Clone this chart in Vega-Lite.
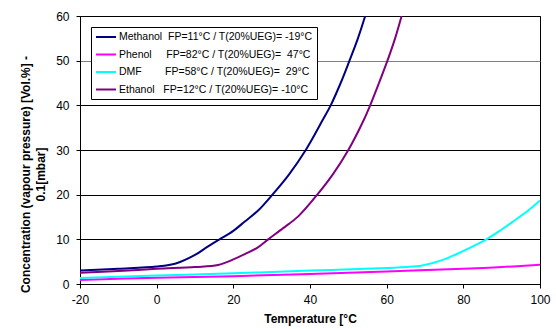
{
  "$schema": "https://vega.github.io/schema/vega-lite/v6.json",
  "width": 460,
  "height": 268,
  "autosize": {"type": "none"},
  "padding": {"left": 80, "top": 16, "right": 16, "bottom": 45},
  "background": "white",
  "config": {
    "font": "Liberation Sans",
    "view": {"stroke": "black", "strokeWidth": 1},
    "axis": {"labelFont": "Liberation Sans", "titleFont": "Liberation Sans", "labelColor": "black", "titleColor": "black", "domainColor": "black", "tickColor": "black", "labelFontSize": 12, "titleFontSize": 12, "titleFontWeight": "bold", "labelFlush": false, "labelExpr": "toString(datum.value)"}
  },
  "data": {
    "values": [
      {"s": "Methanol", "t": -20, "v": 3.0},
      {"s": "Methanol", "t": -10, "v": 3.4},
      {"s": "Methanol", "t": 0, "v": 3.9},
      {"s": "Methanol", "t": 5, "v": 4.6},
      {"s": "Methanol", "t": 10, "v": 6.5},
      {"s": "Methanol", "t": 13, "v": 8.2},
      {"s": "Methanol", "t": 16.4, "v": 10},
      {"s": "Methanol", "t": 20, "v": 11.9},
      {"s": "Methanol", "t": 23, "v": 14},
      {"s": "Methanol", "t": 26.4, "v": 16.4},
      {"s": "Methanol", "t": 30.2, "v": 20},
      {"s": "Methanol", "t": 34.5, "v": 24.5},
      {"s": "Methanol", "t": 38.9, "v": 30},
      {"s": "Methanol", "t": 43.3, "v": 36.7},
      {"s": "Methanol", "t": 45.4, "v": 40},
      {"s": "Methanol", "t": 48, "v": 45},
      {"s": "Methanol", "t": 50.3, "v": 50},
      {"s": "Methanol", "t": 52.5, "v": 55},
      {"s": "Methanol", "t": 54.4, "v": 60},
      {"s": "Phenol", "t": -20, "v": 0.9},
      {"s": "Phenol", "t": 0, "v": 1.4},
      {"s": "Phenol", "t": 20, "v": 1.75},
      {"s": "Phenol", "t": 40, "v": 2.25},
      {"s": "Phenol", "t": 60, "v": 2.8},
      {"s": "Phenol", "t": 80, "v": 3.4},
      {"s": "Phenol", "t": 90, "v": 3.8},
      {"s": "Phenol", "t": 100, "v": 4.3},
      {"s": "DMF", "t": -20, "v": 1.35},
      {"s": "DMF", "t": 0, "v": 1.9},
      {"s": "DMF", "t": 20, "v": 2.4},
      {"s": "DMF", "t": 40, "v": 3.0},
      {"s": "DMF", "t": 58, "v": 3.5},
      {"s": "DMF", "t": 65, "v": 3.8},
      {"s": "DMF", "t": 69, "v": 4.1},
      {"s": "DMF", "t": 72, "v": 4.7},
      {"s": "DMF", "t": 75, "v": 5.5},
      {"s": "DMF", "t": 78, "v": 6.6},
      {"s": "DMF", "t": 81, "v": 7.8},
      {"s": "DMF", "t": 86, "v": 10},
      {"s": "DMF", "t": 90, "v": 12.2},
      {"s": "DMF", "t": 93, "v": 14},
      {"s": "DMF", "t": 97, "v": 16.5},
      {"s": "DMF", "t": 100, "v": 18.7},
      {"s": "Ethanol", "t": -20, "v": 2.5},
      {"s": "Ethanol", "t": -10, "v": 2.9},
      {"s": "Ethanol", "t": 0, "v": 3.4},
      {"s": "Ethanol", "t": 10, "v": 3.8},
      {"s": "Ethanol", "t": 16, "v": 4.25},
      {"s": "Ethanol", "t": 20, "v": 5.5},
      {"s": "Ethanol", "t": 23, "v": 6.7},
      {"s": "Ethanol", "t": 26.4, "v": 8.2},
      {"s": "Ethanol", "t": 29.1, "v": 10},
      {"s": "Ethanol", "t": 33, "v": 12.5},
      {"s": "Ethanol", "t": 37, "v": 15.2},
      {"s": "Ethanol", "t": 41.9, "v": 20},
      {"s": "Ethanol", "t": 46, "v": 24.6},
      {"s": "Ethanol", "t": 50, "v": 30},
      {"s": "Ethanol", "t": 53.9, "v": 36.5},
      {"s": "Ethanol", "t": 55.7, "v": 40},
      {"s": "Ethanol", "t": 58, "v": 45},
      {"s": "Ethanol", "t": 60.2, "v": 50},
      {"s": "Ethanol", "t": 62.2, "v": 55},
      {"s": "Ethanol", "t": 63.9, "v": 60}
    ]
  },
  "mark": {"type": "line", "strokeWidth": 2, "clip": true, "interpolate": "catmull-rom"},
  "encoding": {
    "x": {
      "field": "t", "type": "quantitative",
      "scale": {"domain": [-20, 100], "nice": false, "zero": false},
      "axis": {"values": [-20, 0, 20, 40, 60, 80, 100], "grid": false, "tickSize": 4, "labelPadding": 6.5, "title": "Temperature [°C", "titlePadding": 8}
    },
    "y": {
      "field": "v", "type": "quantitative",
      "scale": {"domain": [0, 60], "nice": false},
      "axis": {
        "values": [0, 10, 20, 30, 40, 50, 60],
        "grid": true,
        "gridColor": {"condition": {"test": "datum.value === 50", "value": "#808080"}, "value": "black"},
        "gridOpacity": 1,
        "tickSize": 4,
        "labelPadding": 7,
        "title": ["Concentration (vapour pressure) [Vol.%] -", "0.1[mbar]"],
        "titleLineHeight": 15,
        "titlePadding": 8,
        "titleY": 158
      }
    },
    "color": {
      "field": "s", "type": "nominal",
      "scale": {"domain": ["Methanol", "Phenol", "DMF", "Ethanol"], "range": ["#000080", "#FF00FF", "#00FFFF", "#800080"]},
      "legend": {
        "title": null,
        "orient": "none",
        "legendX": 11,
        "legendY": 11,
        "direction": "vertical",
        "symbolType": "M-2,0H2",
        "symbolSize": 100,
        "symbolStrokeWidth": 2,
        "symbolOffset": 5,
        "labelFontSize": 10.5,
        "labelFont": "Liberation Sans",
        "labelColor": "black",
        "labelLimit": 400,
        "labelOffset": 7,
        "rowPadding": 5.5,
        "padding": 4,
        "strokeColor": "black",
        "fillColor": "white",
        "labelExpr": "datum.label === 'Methanol' ? 'Methanol\u00a0\u00a0FP=11°C / T(20%UEG)= -19°C' : datum.label === 'Phenol' ? 'Phenol\u00a0\u00a0\u00a0\u00a0\u00a0FP=82°C / T(20%UEG)=\u00a0\u00a047°C' : datum.label === 'DMF' ? 'DMF\u00a0\u00a0\u00a0\u00a0\u00a0\u00a0\u00a0\u00a0FP=58°C / T(20%UEG)=\u00a0\u00a029°C' : 'Ethanol\u00a0\u00a0\u00a0FP=12°C / T(20%UEG)= -10°C'"
      }
    }
  }
}
